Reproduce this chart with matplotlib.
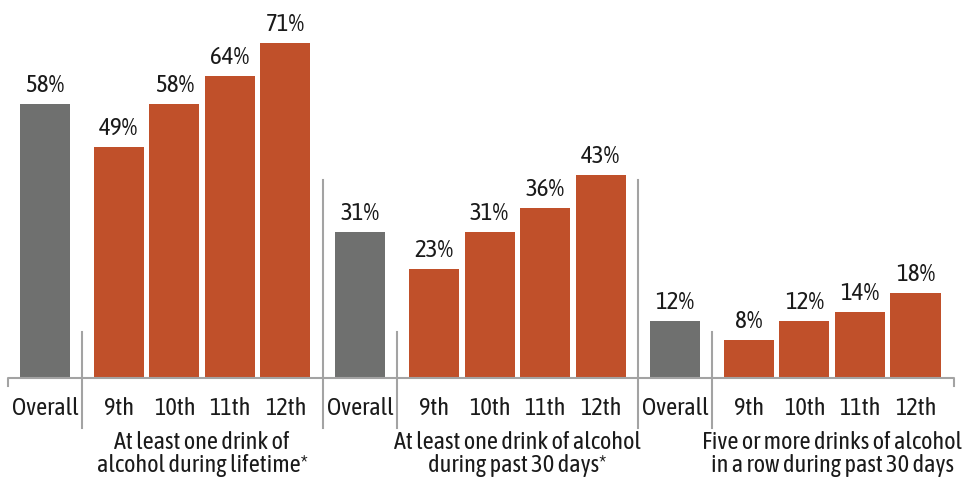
import matplotlib.pyplot as plt
import numpy as np

# dados
groups = ["At least one drink of\nalcohol during lifetime*",
          "At least one drink of alcohol\nduring past 30 days*",
          "Five or more drinks of alcohol\nin a row during past 30 days"]
labels = ["Overall", "9th", "10th", "11th", "12th"]
overall = [58, 31, 12]
grade_9 = [49, 23, 8]
grade_10 = [58, 31, 12]
grade_11 = [64, 36, 14]
grade_12 = [71, 43, 18]

GREY = "#6f706f"
ORANGE = "#c0502a"
LINE = "#a3a3a3"
TXT = "#1a1a1a"
FONT = ["Asap Condensed", "Barlow Semi Condensed", "DejaVu Sans"]

plt.rcParams['font.family'] = FONT

fig = plt.figure(figsize=(9.7, 4.83), dpi=100)
ax = fig.add_axes([0, 105 / 483, 1, 378 / 483])

# posicoes (1 unidade = distancia entre barras de series)
px = 55.5
gap = 74 / px
group_step = 315 / px
width = 50 / px
fs = 17.5

ticks, ticklabels = [], []
for g in range(3):
    base = g * group_step
    vals = [overall[g], grade_9[g], grade_10[g], grade_11[g], grade_12[g]]
    xs = [base] + [base + gap + i for i in range(4)]
    cols = [GREY] + [ORANGE] * 4
    bars = ax.bar(xs, vals, width=width, color=cols)
    for b, v in zip(bars, vals):
        ax.text(b.get_x() + b.get_width() / 2, v + 1.5, f"{v}%",
                ha="center", va="bottom", fontsize=18, color=TXT)
    ticks += xs
    ticklabels += labels
    # titulo do grupo
    ax.text((xs[1] + xs[4]) / 2, -11.2, groups[g], ha="center", va="top",
            fontsize=fs, color=TXT, linespacing=1.0)
    # separadores
    mid = (xs[0] + xs[1]) / 2
    ax.plot([mid, mid], [9.7, -10.6], color=LINE, lw=1.5, clip_on=False)
    if g > 0:
        sep = base - (group_step - (gap + 3) ) / 2
        ax.plot([sep, sep], [41.9, -10.6], color=LINE, lw=1.5, clip_on=False)

# linha de base
x0 = -width / 2 - 12 / px
x1 = 2 * group_step + gap + 3 + width / 2 + 14 / px
ax.plot([x0, x0, x1, x1], [-1.7, 0, 0, -1.7], color=LINE, lw=1.5,
        clip_on=False)

ax.set_xticks(ticks)
ax.set_xticklabels(ticklabels, fontsize=fs, color=TXT)
ax.tick_params(axis="x", length=0, pad=14)
ax.set_yticks([])
for s in ax.spines.values():
    s.set_visible(False)

ax.set_xlim(-45 / px, (970 - 45) / px)
ax.set_ylim(0, 378 / 4.72)

fig.savefig("out.png", dpi=100)
